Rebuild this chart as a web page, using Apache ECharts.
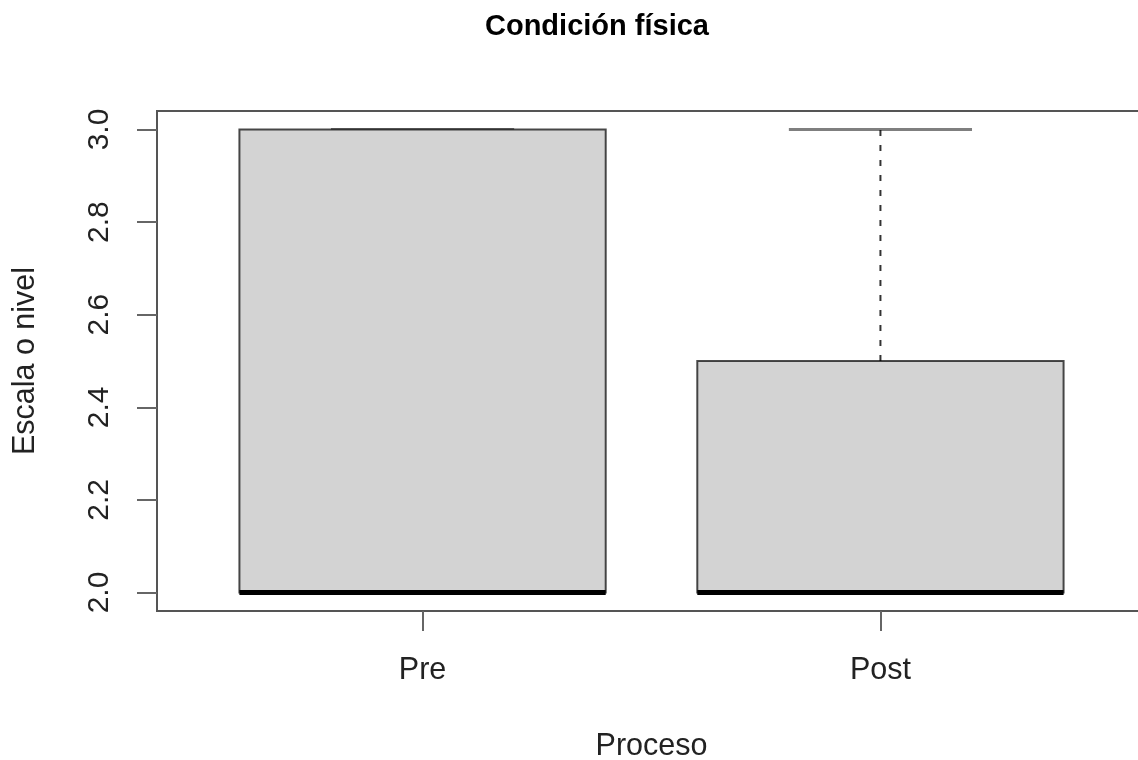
<!DOCTYPE html>
<html>
<head>
<meta charset="utf-8">
<script src="https://cdn.jsdelivr.net/npm/echarts@6/dist/echarts.min.js"></script>
<style>
  html, body { margin: 0; padding: 0; background: #fff; }
  #chart { width: 1138px; height: 760px; }
</style>
</head>
<body>
<div id="chart"></div>
<script>
// datos del boxplot
var categories = ['Pre', 'Post'];
var mins    = [2.0, 2.0];
var q1s     = [2.0, 2.0];
var medians = [2.0, 2.0];
var q3s     = [3.0, 2.5];
var maxs    = [3.0, 3.0];
var yTicks  = [2.0, 2.2, 2.4, 2.6, 2.8, 3.0];

var boxData = categories.map(function (c, i) {
    return [i + 1, mins[i], q1s[i], medians[i], q3s[i], maxs[i]];
});

var chart = echarts.init(document.getElementById('chart'));

// dibujar cada caja con ejes de echarts
function renderBox(params, api) {
    var x = api.value(0);
    var halfBox = 0.4, halfCap = 0.2;
    var pMin = api.coord([x, api.value(1)]);
    var pQ1 = api.coord([x, api.value(2)]);
    var pMed = api.coord([x, api.value(3)]);
    var pQ3 = api.coord([x, api.value(4)]);
    var pMax = api.coord([x, api.value(5)]);
    var bl = api.coord([x - halfBox, api.value(2)])[0];
    var br = api.coord([x + halfBox, api.value(2)])[0];
    var cl = api.coord([x - halfCap, api.value(2)])[0];
    var cr = api.coord([x + halfCap, api.value(2)])[0];
    var whisker = { stroke: '#333', lineWidth: 2, lineDash: [6, 9] };
    var cap = { stroke: 'rgba(0,0,0,0.5)', lineWidth: 3 };
    return {
        type: 'group',
        children: [
            { type: 'line', shape: { x1: pQ3[0], y1: pQ3[1], x2: pMax[0], y2: pMax[1] }, style: whisker },
            { type: 'line', shape: { x1: pQ1[0], y1: pQ1[1], x2: pMin[0], y2: pMin[1] }, style: whisker },
            { type: 'line', shape: { x1: cl, y1: pMax[1], x2: cr, y2: pMax[1] }, style: cap },
            { type: 'line', shape: { x1: cl, y1: pMin[1], x2: cr, y2: pMin[1] }, style: cap },
            {
                type: 'rect',
                shape: { x: bl, y: pQ3[1], width: br - bl, height: pQ1[1] - pQ3[1] },
                style: { fill: '#d3d3d3', stroke: 'rgba(0,0,0,0.7)', lineWidth: 2 }
            },
            { type: 'line', shape: { x1: bl, y1: pMed[1], x2: br, y2: pMed[1] }, style: { stroke: '#000', lineWidth: 5 } }
        ]
    };
}

var option = {
    animation: false,
    backgroundColor: '#fff',
    textStyle: { fontFamily: 'Liberation Sans' },
    title: {
        text: 'Condición física',
        left: 485,
        top: 12,
        padding: 0,
        textStyle: { fontSize: 29, fontWeight: 'bold', color: '#000', fontFamily: 'Liberation Sans' }
    },
    grid: {
        left: 157,
        top: 111,
        width: 989,
        height: 500,
        outerBoundsMode: 'none',
        containLabel: false,
        show: true,
        borderColor: '#555',
        borderWidth: 2,
        backgroundColor: 'transparent'
    },
    xAxis: {
        type: 'value',
        min: 0.42,
        max: 2.58,
        name: 'Proceso',
        nameLocation: 'middle',
        nameGap: 120,
        nameTextStyle: { fontSize: 30.5, color: '#222' },
        splitLine: { show: false },
        axisLine: { show: false },
        axisTick: { show: true, length: 20, customValues: [1, 2], lineStyle: { color: '#666', width: 2 } },
        axisLabel: {
            customValues: [1, 2],
            margin: 44,
            fontSize: 30.5,
            color: '#222',
            formatter: function (v) { return categories[Math.round(v) - 1]; }
        }
    },
    yAxis: {
        type: 'value',
        min: 1.96,
        max: 3.04,
        name: 'Escala o nivel',
        nameLocation: 'middle',
        nameGap: 116,
        nameTextStyle: { fontSize: 30.5, color: '#222' },
        splitLine: { show: false },
        axisLine: { show: false },
        axisTick: { show: true, length: 20, customValues: yTicks, lineStyle: { color: '#666', width: 2 } },
        axisLabel: {
            customValues: yTicks,
            rotate: 90,
            margin: 42,
            fontSize: 30,
            color: '#222',
            formatter: function (v) { return v.toFixed(1); }
        }
    },
    series: [{
        type: 'custom',
        renderItem: renderBox,
        encode: { x: 0, y: [1, 2, 3, 4, 5] },
        data: boxData,
        clip: false
    }]
};

chart.setOption(option);
</script>
</body>
</html>
